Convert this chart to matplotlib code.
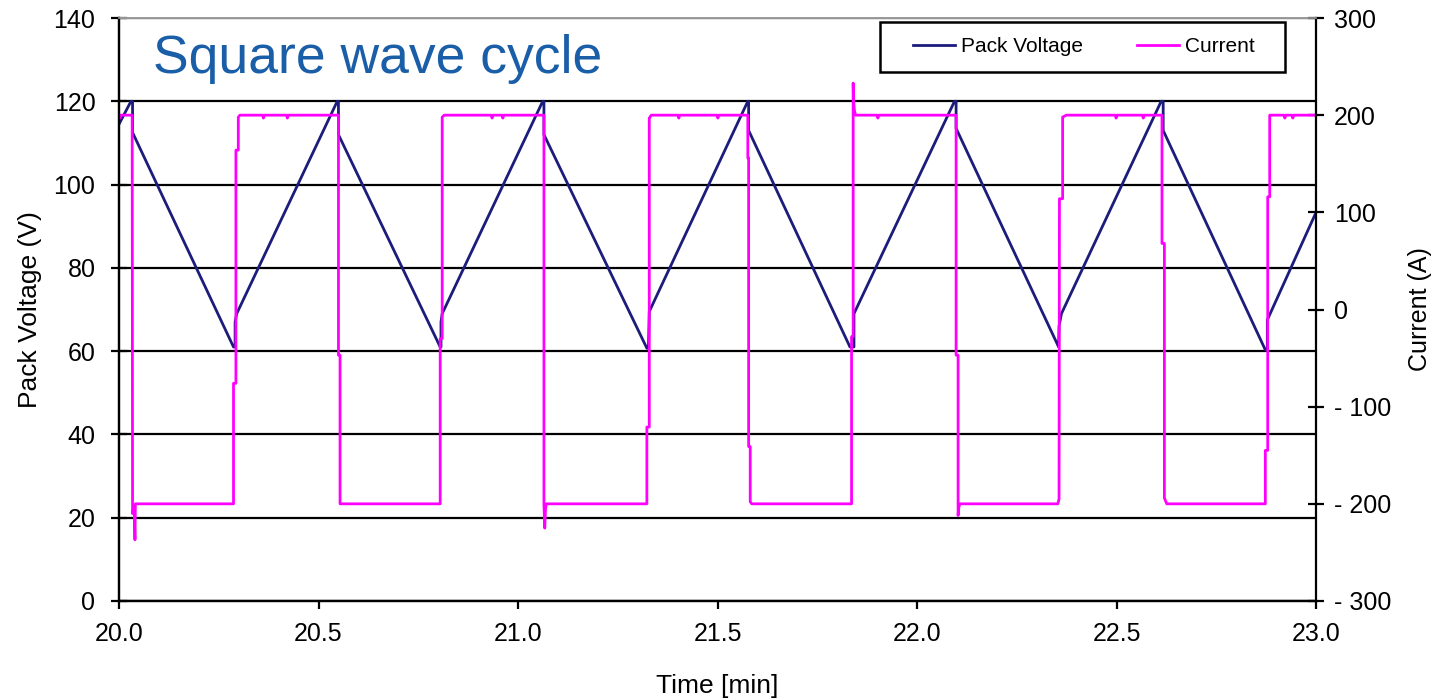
import matplotlib
matplotlib.use("Agg")
import matplotlib.pyplot as plt
from matplotlib.lines import Line2D
from matplotlib.patches import Rectangle

plt.rcParams["font.family"] = ["Liberation Sans", "DejaVu Sans"]

# Pack voltage trace (min, V) - triangle between ~60 V and 120 V
volt_t = [20.000, 20.030, 20.034, 20.034,
          20.287, 20.291, 20.291, 20.295,
          20.547, 20.550, 20.550,
          20.805, 20.807, 20.807, 20.810,
          21.062, 21.065, 21.065,
          21.323, 21.327, 21.329,
          21.576, 21.578, 21.578,
          21.832, 21.842, 21.842,
          22.094, 22.098, 22.098,
          22.355, 22.356, 22.362,
          22.612, 22.617, 22.617,
          22.873, 22.878, 22.878,
          23.000]
volt_v = [114.5, 120.0, 120.0, 112.5,
          61.0, 61.0, 67.0, 69.0,
          120.0, 120.0, 112.0,
          61.0, 61.0, 67.0, 69.0,
          120.0, 120.0, 112.0,
          60.7, 60.7, 69.5,
          120.0, 120.0, 113.0,
          61.0, 61.0, 69.0,
          120.0, 120.0, 113.5,
          61.0, 66.0, 69.0,
          120.0, 120.0, 113.0,
          60.3, 60.3, 67.5,
          93.3]

# Current trace (min, A) - +/-200 A square wave
curr_t = [20.000, 20.003, 20.003, 20.033,
          20.034, 20.038, 20.040, 20.041,
          20.287, 20.287, 20.293, 20.293, 20.299, 20.299, 20.303,
          20.360, 20.362, 20.364, 20.420, 20.422, 20.424,
          20.550, 20.550, 20.554, 20.554,
          20.805, 20.805, 20.810, 20.810, 20.815,
          20.933, 20.935, 20.937, 20.960, 20.962, 20.964,
          21.065, 21.065, 21.067, 21.069, 21.071,
          21.323, 21.323, 21.329, 21.329, 21.334,
          21.401, 21.403, 21.405, 21.499, 21.501, 21.503,
          21.576, 21.576, 21.578, 21.578, 21.582, 21.582, 21.586,
          21.836, 21.836, 21.840, 21.840, 21.841, 21.843, 21.846,
          21.900, 21.902, 21.904,
          22.098, 22.098, 22.103, 22.103, 22.105, 22.108,
          22.353, 22.356, 22.357, 22.365, 22.365, 22.374,
          22.497, 22.499, 22.501, 22.565, 22.567, 22.569,
          22.614, 22.614, 22.620, 22.620, 22.626,
          22.873, 22.873, 22.879, 22.879, 22.884, 22.884,
          22.920, 22.922, 22.924, 22.940, 22.942, 22.944,
          23.000]
curr_a = [197, 197, 200, 200,
          -210, -203, -237, -200,
          -200, -76, -76, 164, 164, 198, 200,
          200, 197, 200, 200, 197, 200,
          200, -47, -47, -200,
          -200, -30, -30, 198, 200,
          200, 197, 200, 200, 197, 200,
          200, -200, -225, -205, -200,
          -200, -121, -121, 197, 200,
          200, 197, 200, 200, 197, 200,
          200, 156, 156, -141, -141, -198, -200,
          -200, -28, -28, 233, 215, 205, 200,
          200, 197, 200,
          200, -47, -47, -212, -203, -200,
          -200, -195, 114, 114, 198, 200,
          200, 197, 200, 200, 197, 200,
          200, 68, 68, -194, -200,
          -200, -145, -145, 116, 116, 200,
          200, 197, 200, 200, 197, 200,
          200]

x_ticks = [20.0, 20.5, 21.0, 21.5, 22.0, 22.5, 23.0]
v_ticks = [0, 20, 40, 60, 80, 100, 120, 140]
a_ticks = [-300, -200, -100, 0, 100, 200, 300]
a_tick_labels = ["- 300", "- 200", "- 100", "0", "100", "200", "300"]

VOLT_COLOR = "#1c1c7c"
CURR_COLOR = "#ff00ff"

W, H = 1435, 700
fig = plt.figure(figsize=(W / 100, H / 100), dpi=100)
ax = fig.add_axes([119 / W, 1 - 601 / H, (1316 - 119) / W, (601 - 18) / H])
ax2 = ax.twinx()

ax.plot(volt_t, volt_v, color=VOLT_COLOR, lw=2.0)
ax2.plot(curr_t, curr_a, color=CURR_COLOR, lw=2.0)

ax.set_xlim(20.0, 23.0)
ax.set_ylim(0, 140)
ax2.set_ylim(-300, 300)

ax.set_xticks(x_ticks)
ax.set_xticklabels([f"{x:.1f}" for x in x_ticks])
ax.set_yticks(v_ticks)
ax2.set_yticks(a_ticks)
ax2.set_yticklabels(a_tick_labels)

ax.yaxis.grid(True, color="black", lw=1.6)
ax.xaxis.grid(False)

for a in (ax, ax2):
    for s in a.spines.values():
        s.set_linewidth(1.6)
        s.set_color("black")
    a.spines["top"].set_color("#9a9a9a")
    a.spines["top"].set_linewidth(1.2)
ax.spines["right"].set_visible(False)

ax.tick_params(axis="y", direction="inout", length=12, width=1.6, pad=11, labelsize=18)
ax2.tick_params(axis="y", direction="inout", length=12, width=1.6, pad=7, labelsize=18)
ax.tick_params(axis="x", direction="out", length=6, width=1.6, pad=9, labelsize=18)

ax.set_ylabel("Pack Voltage (V)", fontsize=19, labelpad=8)
ax2.set_ylabel("Current (A)", fontsize=18, labelpad=12)
ax.set_xlabel("Time [min]", fontsize=19, labelpad=20)

# legend box drawn separately so its size can be set in pixels
fig.add_artist(Rectangle((880 / W, 1 - 72 / H), 405 / W, 50 / H,
                         transform=fig.transFigure, facecolor="white",
                         edgecolor="black", lw=1.8, zorder=4))
handles = [Line2D([], [], color=VOLT_COLOR, lw=2.0),
           Line2D([], [], color=CURR_COLOR, lw=2.0)]
leg = fig.legend(handles, ["Pack Voltage", "Current"], ncol=2,
                 loc="center", bbox_to_anchor=(1084 / W, 1 - 47 / H),
                 bbox_transform=fig.transFigure, fontsize=15,
                 frameon=False, handlelength=2.0, handletextpad=0.3,
                 columnspacing=2.6)
leg.set_zorder(5)

fig.text(153 / W, 1 - 73 / H, "Square wave cycle", color="#1a5ea8",
         fontsize=38.5, va="baseline", ha="left")

fig.savefig("out.png", dpi=100, facecolor="white")
